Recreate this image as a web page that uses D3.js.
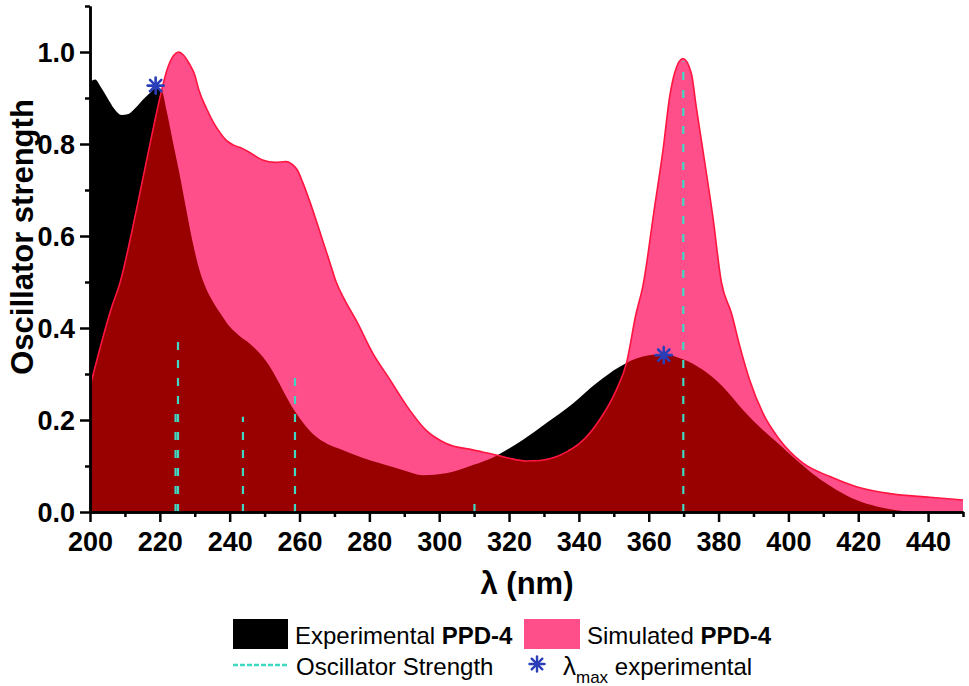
<!DOCTYPE html>
<html>
<head>
<meta charset="utf-8">
<script src="https://cdn.jsdelivr.net/npm/d3@7/dist/d3.min.js"></script>
<style>
  html, body { margin: 0; padding: 0; background: #fff; }
  svg { display: block; font-family: "Liberation Sans", Arial, sans-serif; }
</style>
</head>
<body>
<svg id="chart" width="969" height="686"></svg>
<script>
// ---------- DATA ----------
const expWavelength = [200, 201.5, 203, 205, 207, 209, 211, 213, 215, 217, 219, 220.5, 222, 223.6, 225.5, 227.4, 229.3, 231.2, 233, 235, 237.5, 240, 242.5, 245.6, 249.4, 252, 254.2, 256.5, 259, 262, 264.7, 268, 272.3, 278, 285.7, 290, 295.3, 302, 309.6, 316.3, 320, 324, 330.6, 338.3, 345, 351.7, 358.3, 364, 369.8, 375.5, 381.3, 387, 392.7, 397.5, 402.3, 408, 413.8, 419.5, 425.3, 431, 438, 450];
const expValue = [0.935, 0.94, 0.925, 0.9, 0.876, 0.863, 0.865, 0.878, 0.895, 0.91, 0.922, 0.917, 0.87, 0.81, 0.74, 0.664, 0.59, 0.53, 0.49, 0.46, 0.43, 0.403, 0.385, 0.367, 0.338, 0.31, 0.28, 0.247, 0.215, 0.185, 0.164, 0.148, 0.135, 0.118, 0.1, 0.09, 0.08, 0.084, 0.102, 0.122, 0.138, 0.157, 0.193, 0.236, 0.28, 0.316, 0.338, 0.343, 0.332, 0.309, 0.272, 0.222, 0.178, 0.146, 0.113, 0.077, 0.048, 0.026, 0.012, 0.004, 0.0, 0.0];

const simWavelength = [200, 203.5, 206, 208.8, 212, 215, 218, 220.3, 222, 224, 225.3, 226.8, 228.4, 230, 231.2, 233.5, 235.5, 237.5, 238.9, 241, 243.7, 246.5, 249.4, 253, 256.1, 258, 259.4, 261, 262.8, 266.6, 269, 270.5, 273, 276.2, 281, 285.7, 291.5, 296.2, 302, 309.6, 316.3, 320, 324.9, 329, 333.5, 337, 340.2, 345.9, 350.7, 353.6, 356.4, 358.3, 361.7, 364.1, 366, 367.4, 369.8, 372.2, 373.6, 375.5, 378.4, 380.8, 383.7, 386.1, 388.9, 392.7, 397.5, 404.2, 411.9, 419.5, 429.1, 440.5, 450];
const simValue = [0.272, 0.374, 0.44, 0.504, 0.61, 0.72, 0.83, 0.91, 0.96, 0.993, 1.0, 0.993, 0.975, 0.95, 0.917, 0.875, 0.845, 0.822, 0.809, 0.798, 0.79, 0.778, 0.765, 0.76, 0.762, 0.755, 0.743, 0.715, 0.678, 0.591, 0.535, 0.5, 0.46, 0.417, 0.345, 0.29, 0.222, 0.178, 0.149, 0.135, 0.124, 0.117, 0.111, 0.112, 0.12, 0.133, 0.149, 0.2, 0.265, 0.323, 0.432, 0.49, 0.664, 0.787, 0.903, 0.954, 0.986, 0.954, 0.881, 0.787, 0.64, 0.5, 0.432, 0.36, 0.287, 0.215, 0.157, 0.106, 0.077, 0.055, 0.04, 0.032, 0.026];

const oscWavelength = [224.5, 225.2, 243.8, 258.7, 310.1, 369.9];
const oscValue = [0.23, 0.37, 0.207, 0.307, 0.03, 0.98];

const lambdaMaxWavelength = [218.8, 364.3];
const lambdaMaxValue = [0.927, 0.341];

const xMajorTicks = [200, 220, 240, 260, 280, 300, 320, 340, 360, 380, 400, 420, 440];
const xMinorTicks = [210, 230, 250, 270, 290, 310, 330, 350, 370, 390, 410, 430, 450];
const yMajorTicks = [0.0, 0.2, 0.4, 0.6, 0.8, 1.0];
const yMinorTicks = [0.1, 0.3, 0.5, 0.7, 0.9, 1.1];

const xLabel = "λ (nm)";
const yLabel = "Oscillator strength";

// ---------- LAYOUT ----------
const svg = d3.select("#chart");
const mLeft = 90, mRight = 963, mTop = 6, mBottom = 512;
const x = d3.scaleLinear().domain([200, 450]).range([mLeft, mRight]);
const y = d3.scaleLinear().domain([0, 1.1]).range([mBottom, mTop]);

const FONT = '"Liberation Sans", Arial, sans-serif';
const PINK = "#ff4f8b", DARKRED = "#990000", REDLINE = "#ff1540", TEAL = "#3ed8c3", STAR = "#2a3eb8";

const expData = expWavelength.map((w, i) => [w, expValue[i]]);
const simData = simWavelength.map((w, i) => [w, simValue[i]]);

const area = d3.area().x(d => x(d[0])).y0(y(0)).y1(d => y(d[1])).curve(d3.curveMonotoneX);
const line = d3.line().x(d => x(d[0])).y(d => y(d[1])).curve(d3.curveMonotoneX);

const defs = svg.append("defs");
defs.append("clipPath").attr("id", "plotClip")
  .append("rect").attr("x", mLeft).attr("y", mTop).attr("width", mRight - mLeft).attr("height", mBottom - mTop);
defs.append("clipPath").attr("id", "expClip")
  .append("path").attr("d", area(expData));

const plot = svg.append("g").attr("clip-path", "url(#plotClip)");

plot.append("path").attr("d", area(expData)).attr("fill", "#000");
plot.append("path").attr("d", area(simData)).attr("fill", PINK);
plot.append("g").attr("clip-path", "url(#expClip)")
  .append("path").attr("d", area(simData)).attr("fill", DARKRED);
plot.append("path").attr("d", line(simData)).attr("fill", "none")
  .attr("stroke", REDLINE).attr("stroke-width", 1.6);

// oscillator strength lines
plot.selectAll("line.osc").data(oscWavelength).join("line")
  .attr("class", "osc")
  .attr("x1", d => x(d)).attr("x2", d => x(d))
  .attr("y1", y(0)).attr("y2", (d, i) => y(oscValue[i]))
  .attr("stroke", TEAL).attr("stroke-width", 2.2)
  .attr("stroke-dasharray", "8,10");

// asterisk symbol
function asterisk(g, cx, cy, r, w) {
  const angles = [0, 45, 90, 135];
  angles.forEach(a => {
    const rad = a * Math.PI / 180;
    g.append("line")
      .attr("x1", cx - r * Math.cos(rad)).attr("y1", cy - r * Math.sin(rad))
      .attr("x2", cx + r * Math.cos(rad)).attr("y2", cy + r * Math.sin(rad))
      .attr("stroke", STAR).attr("stroke-width", w).attr("stroke-linecap", "round");
  });
}
const stars = svg.append("g");
lambdaMaxWavelength.forEach((w, i) => asterisk(stars, x(w), y(lambdaMaxValue[i]), 8, 2.6));

// ---------- AXES ----------
const xAxis = svg.append("g").attr("transform", `translate(0,${mBottom})`)
  .call(d3.axisBottom(x).tickValues(xMajorTicks).tickSize(10).tickSizeOuter(0).tickPadding(5).tickFormat(d3.format("d")));
const xMinor = svg.append("g").attr("transform", `translate(0,${mBottom})`)
  .call(d3.axisBottom(x).tickValues(xMinorTicks).tickSize(5).tickSizeOuter(0).tickFormat(""));
const yAxis = svg.append("g").attr("transform", `translate(${mLeft},0)`)
  .call(d3.axisLeft(y).tickValues(yMajorTicks).tickSize(10).tickSizeOuter(0).tickPadding(5).tickFormat(d3.format(".1f")));
const yMinor = svg.append("g").attr("transform", `translate(${mLeft},0)`)
  .call(d3.axisLeft(y).tickValues(yMinorTicks).tickSize(5).tickSizeOuter(0).tickFormat(""));

[xAxis, xMinor, yAxis, yMinor].forEach(g => {
  g.selectAll(".domain").attr("stroke", "#000").attr("stroke-width", 2.5);
  g.selectAll(".tick line").attr("stroke", "#000").attr("stroke-width", 2.5);
  g.selectAll(".tick text").attr("fill", "#000")
    .style("font-family", FONT).style("font-size", "27px").style("font-weight", "bold");
});
xAxis.selectAll(".tick text").attr("dy", "0.9em");
yAxis.selectAll(".tick text").attr("dy", "0.36em");

// axis titles
svg.append("text").attr("x", 527).attr("y", 594).attr("text-anchor", "middle")
  .style("font-family", FONT).style("font-size", "31px").style("font-weight", "bold").text(xLabel);
svg.append("text").attr("transform", "translate(33,237) rotate(-90)").attr("text-anchor", "middle")
  .style("font-family", FONT).style("font-size", "31px").style("font-weight", "bold").text(yLabel);

// ---------- LEGEND ----------
const lg = svg.append("g").style("font-family", FONT).style("font-size", "24px");
lg.append("rect").attr("x", 233).attr("y", 619).attr("width", 55).attr("height", 30).attr("fill", "#000");
const t1 = lg.append("text").attr("x", 295).attr("y", 644);
t1.append("tspan").text("Experimental ");
t1.append("tspan").style("font-weight", "bold").text("PPD-4");

lg.append("rect").attr("x", 524).attr("y", 619).attr("width", 56).attr("height", 30).attr("fill", PINK);
const t2 = lg.append("text").attr("x", 587).attr("y", 644);
t2.append("tspan").text("Simulated ");
t2.append("tspan").style("font-weight", "bold").text("PPD-4");

lg.append("line").attr("x1", 233).attr("x2", 288).attr("y1", 665).attr("y2", 665)
  .attr("stroke", TEAL).attr("stroke-width", 2.5).attr("stroke-dasharray", "5,2");
lg.append("text").attr("x", 296).attr("y", 675).text("Oscillator Strength");
asterisk(lg, 537, 664, 7.5, 2.4);
const t3 = lg.append("text").attr("x", 563).attr("y", 675);
t3.append("tspan").style("font-size", "26px").text("λ");
t3.append("tspan").attr("dy", 8).style("font-size", "17px").text("max");
t3.append("tspan").attr("dy", -8).text(" experimental");
</script>
</body>
</html>
